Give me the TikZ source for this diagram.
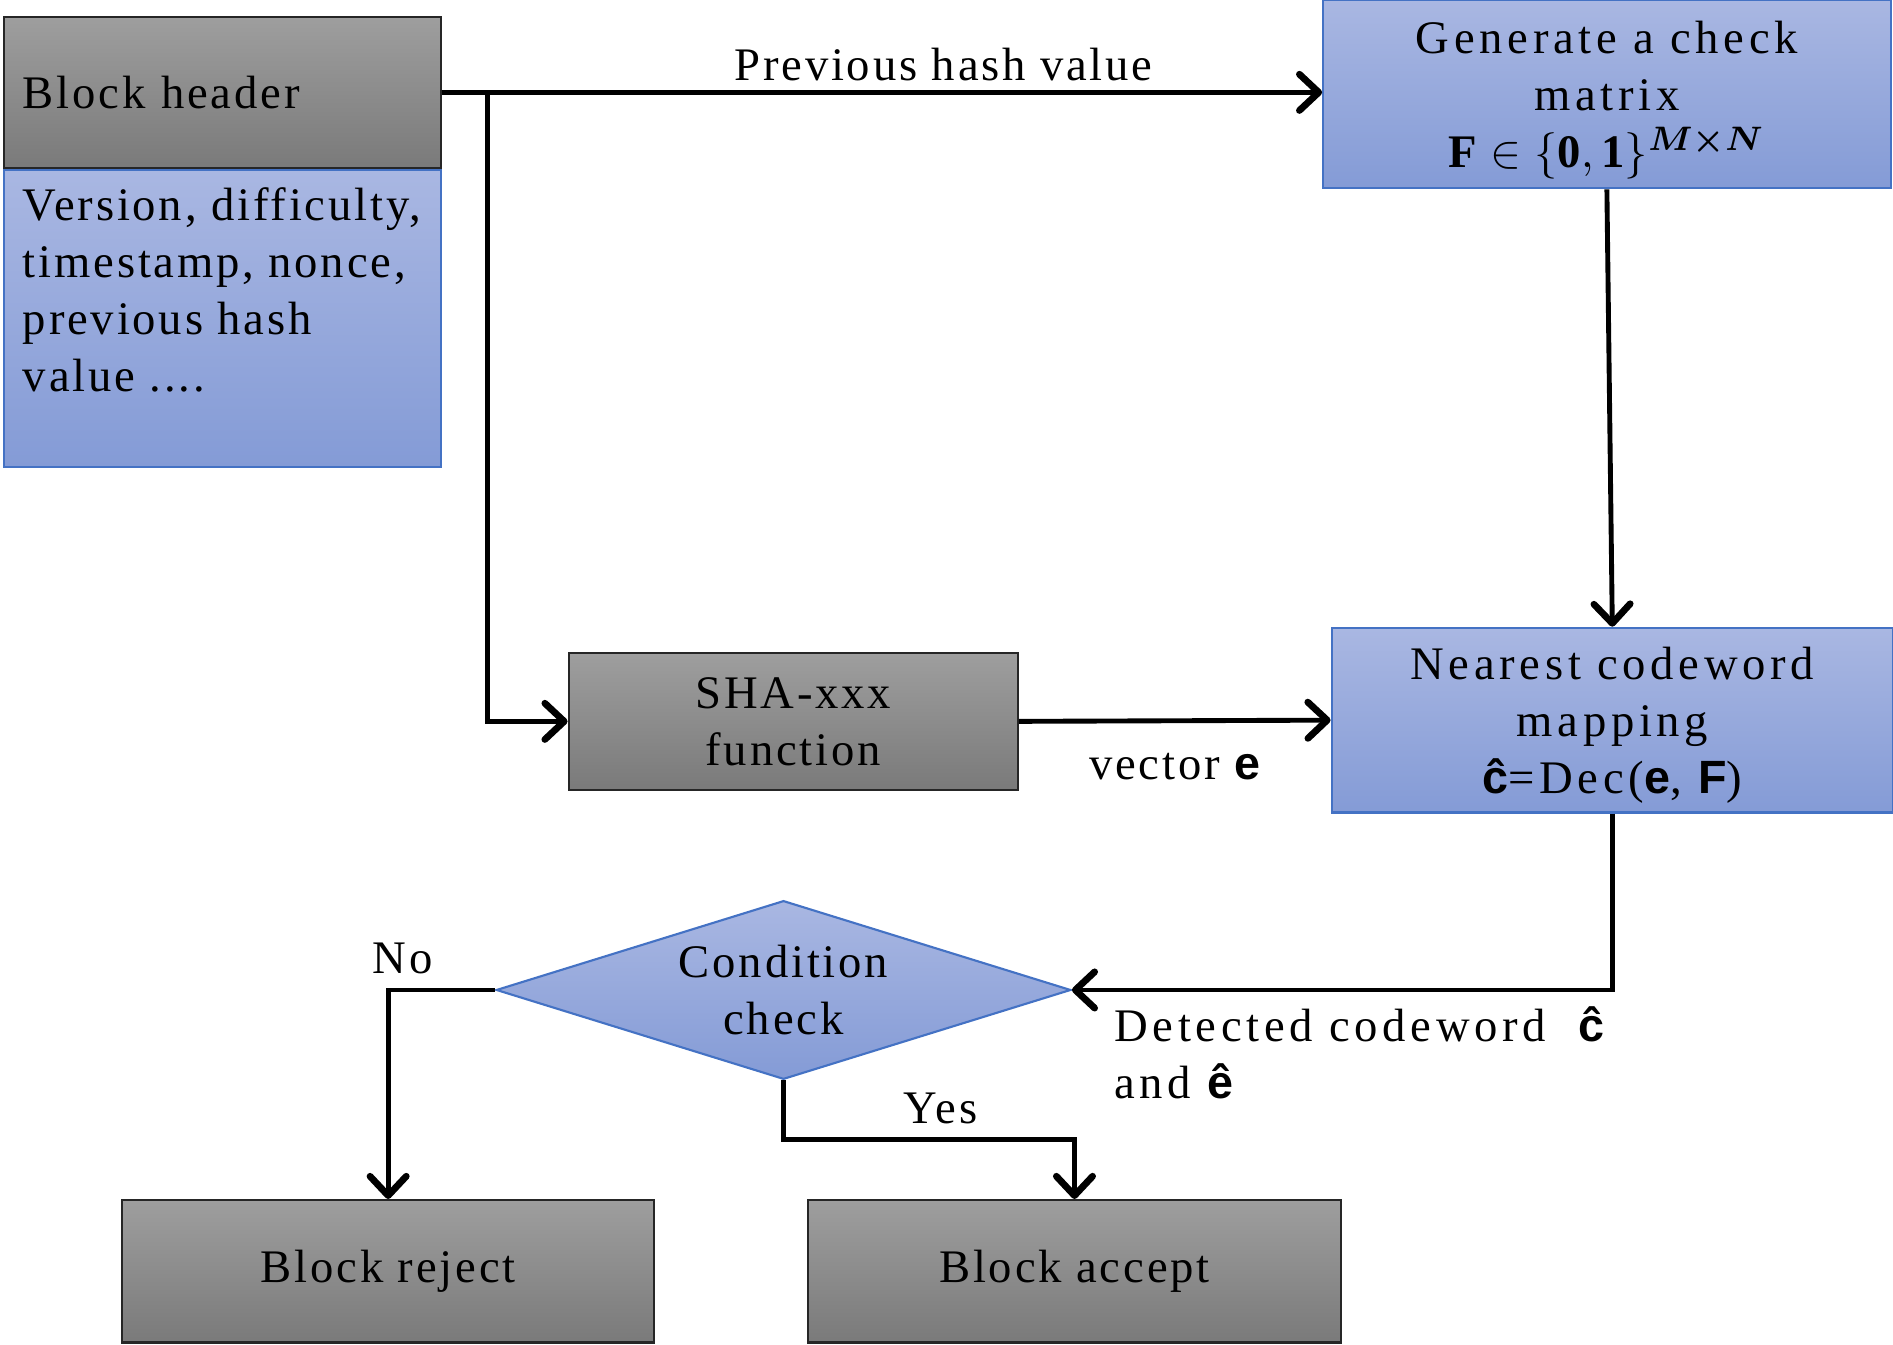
\documentclass[tikz,border=0pt]{standalone}
\usepackage{amsmath}
\usepackage{amssymb}
\usepackage{fontspec}
\setmainfont{Liberation Serif}[LetterSpace=6]
\setsansfont{Liberation Sans}
\usepackage{tikz}
\usetikzlibrary{shapes.geometric}
\usetikzlibrary{arrows.meta}

\definecolor{greytop}{RGB}{158,158,158}
\definecolor{greybot}{RGB}{122,122,122}
\definecolor{bluetop}{RGB}{169,183,226}
\definecolor{bluebot}{RGB}{132,155,214}
\definecolor{blueline}{RGB}{68,114,196}

% bold sans letters for the vectors
\newcommand{\vb}[1]{{\sffamily\bfseries #1}}

\begin{document}
\begin{tikzpicture}
 [ font=\fontsize{11}{13.4}\selectfont
 , wide/.style={font=\fontsize{11}{13.4}\selectfont\addfontfeatures{LetterSpace=10}}
 , grey box/.style={draw=black!85, line width=0.5pt, top color=greytop, bottom color=greybot, inner sep=0pt, align=center}
 , blue box/.style={draw=blueline, line width=0.5pt, top color=bluetop, bottom color=bluebot, inner sep=0pt, align=center}
 , flow/.style={line width=1.15pt, -{Straight Barb[length=1.6mm, width=3mm, round, line width=1.6pt]}}
 , lbl/.style={inner sep=1pt}
 ]
  \useasboundingbox (0,0) rectangle (15.68,-11.14);

  % header and its fields
  \node[grey box, minimum width=3.62cm, minimum height=1.25cm, text width=3.30cm, align=left] (hdr) at (1.84,-0.765) {Block header};
  \node[blue box, minimum width=3.62cm, anchor=north] (fields) at (hdr.south)
    {\parbox[c][2.46cm][t]{3.62cm}{\raggedright\leftskip=0.16cm
      \rule{0pt}{12pt}Version, difficulty,\\ timestamp, nonce,\\ previous hash\\ value ....}};

  \node[blue box, wide, minimum width=4.70cm, minimum height=1.56cm] (genmat) at (13.31,-0.78)
    {Generate a check\\ matrix\\ \raisebox{0pt}[\height][0pt]{$\mathbf{F}\in\{\mathbf{0},\mathbf{1}\}^{\boldsymbol{M\times N}}$}};
  \node[grey box, minimum width=3.72cm, minimum height=1.13cm] (sha) at (6.57,-5.975) {SHA-xxx\\ function};
  \node[blue box, wide, minimum width=4.65cm, minimum height=1.53cm] (nearest) at (13.355,-5.965)
    {Nearest codeword\\ mapping\\ \raisebox{0pt}[\height][0pt]{\vb{ĉ}=Dec(\vb{e}, \vb{F})}};
  \node[blue box, diamond, aspect=3.2, minimum width=4.76cm, minimum height=1.48cm] (cond) at (6.49,-8.20) {Condition\\ check};
  \node[grey box, minimum width=4.41cm, minimum height=1.18cm] (reject) at (3.215,-10.53) {Block reject};
  \node[grey box, minimum width=4.42cm, minimum height=1.18cm] (accept) at (8.90,-10.53) {Block accept};

  \coordinate (split) at ([xshift=0.38cm]hdr.east);

  \draw[flow] (hdr.east) -- node[lbl, pos=0.57, above=1pt] {Previous hash value} (hdr.east -| genmat.west);
  \draw[flow] (split) |- (sha.west);
  \draw[flow] (sha.east) -- node[lbl, below=6pt] {vector \vb{e}} (nearest.west);
  \draw[flow] (genmat.south) -- (nearest.north);
  \draw[flow] (nearest.south) |- (cond.east);
  \node[lbl, wide, anchor=north west, align=left] (detect) at ([xshift=0.31cm, yshift=-0.1cm]cond.east)
    {Detected codeword\ \ \vb{ĉ}\\ and \vb{ê}};
  \draw[flow] (cond.west) -| node[lbl, pos=0.5, anchor=south, xshift=0.12cm, yshift=0.08cm] {No} (reject.north);
  \draw[flow] (cond.south) -- ++(0,-0.49) -| node[lbl, pos=0.27, above=2pt] {Yes} (accept.north);
\end{tikzpicture}
\end{document}
